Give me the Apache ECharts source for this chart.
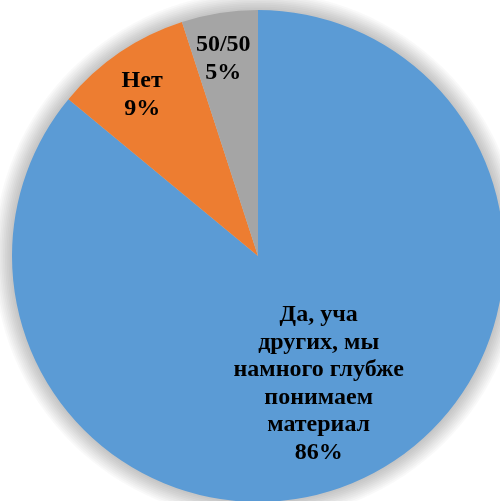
<!DOCTYPE html>
<html><head><meta charset="utf-8">
<script src="https://cdn.jsdelivr.net/npm/echarts@6/dist/echarts.min.js"></script>
<style>html,body{margin:0;padding:0;background:#fff}#c{width:500px;height:501px}</style>
</head><body><div id="c"></div>
<script>
const categories = ["Да, уча\nдругих, мы\nнамного глубже\nпонимаем\nматериал", "Нет", "50/50"];
const values = [86, 9, 5];
const colors = ["#5B9BD5", "#ED7D31", "#A5A5A5"];
const labelOffsets = [[7, 14], [-45, -57], [-15, -73]];

const CENTER = [258, 256];
const R = 246;

// soft glow around the pie (decorative halo rings)
const halo = [];
for (let i = 10; i >= 1; i--) {
  halo.push({
    type: 'pie', silent: true, center: CENTER, radius: [0, R + i * 1.8],
    data: [{value: 1, name: ''}],
    itemStyle: {color: 'rgba(0,0,0,0.022)'},
    label: {show: false}, labelLine: {show: false}, emphasis: {disabled: true}
  });
}

const chart = echarts.init(document.getElementById('c'), null, {renderer: 'canvas'});
chart.setOption({
  backgroundColor: '#ffffff',
  animation: false,
  series: halo.concat([{
    type: 'pie',
    center: CENTER,
    radius: [0, R],
    startAngle: 90,
    clockwise: true,
    data: categories.map((n, i) => ({
      name: n, value: values[i],
      itemStyle: {color: colors[i]},
      label: {offset: labelOffsets[i]}
    })),
    itemStyle: {borderWidth: 0},
    label: {
      show: true, position: 'inside',
      formatter: '{b}\n{d}%',
      fontFamily: '"Liberation Serif", "Times New Roman", serif',
      fontWeight: 'bold', fontSize: 24, lineHeight: 27.5,
      color: '#000000', align: 'center'
    },
    labelLine: {show: false},
    emphasis: {disabled: true}
  }])
});
</script></body></html>
